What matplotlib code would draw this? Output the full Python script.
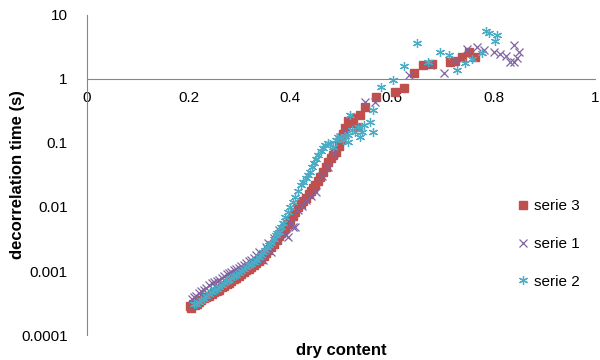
import matplotlib
matplotlib.use('Agg')
import matplotlib.pyplot as plt
from matplotlib.ticker import FixedLocator, FixedFormatter, NullLocator

plt.rcParams['font.family'] = ['Liberation Sans', 'DejaVu Sans']

# serie 3 (squares)
x3 = [0.203, 0.205, 0.208, 0.212, 0.216, 0.220, 0.225, 0.230, 0.235, 0.240,
      0.245, 0.250, 0.255, 0.260, 0.265, 0.270, 0.275, 0.279, 0.284, 0.289,
      0.294, 0.299, 0.304, 0.309, 0.313, 0.318, 0.323, 0.328, 0.333, 0.338,
      0.343, 0.348, 0.352, 0.357, 0.362, 0.367, 0.373, 0.378, 0.382, 0.386,
      0.390, 0.395, 0.400, 0.405, 0.410, 0.416, 0.421, 0.426, 0.431, 0.436,
      0.441, 0.445, 0.449, 0.454, 0.459, 0.464, 0.470, 0.475, 0.480, 0.485,
      0.490, 0.495, 0.500, 0.504, 0.507, 0.513, 0.518, 0.523, 0.533, 0.537,
      0.548, 0.568, 0.607, 0.624, 0.644, 0.661, 0.679, 0.714, 0.724, 0.738,
      0.751, 0.763]
y3 = [0.00028, 0.00026, 0.00030, 0.00029, 0.00031, 0.00033, 0.00035, 0.00038, 0.00039, 0.00041,
      0.00044, 0.00047, 0.00049, 0.00051, 0.00056, 0.00059, 0.00062, 0.00065, 0.00070, 0.00074,
      0.00079, 0.00084, 0.00089, 0.00096, 0.00102, 0.00108, 0.00116, 0.00124, 0.00133, 0.00143,
      0.00156, 0.00172, 0.00190, 0.00213, 0.00240, 0.00268, 0.00305, 0.00350, 0.00391, 0.00430,
      0.00469, 0.00540, 0.00626, 0.00720, 0.00830, 0.0100, 0.0112, 0.0125, 0.0138, 0.0158,
      0.0180, 0.0200, 0.0221, 0.0258, 0.0296, 0.0350, 0.0422, 0.0500, 0.0583, 0.0650,
      0.0723, 0.0900, 0.111, 0.140, 0.171, 0.221, 0.205, 0.246, 0.178, 0.274,
      0.365, 0.523, 0.627, 0.723, 1.24, 1.65, 1.71, 1.84, 1.91, 2.21,
      2.64, 2.21]

# serie 1 (crosses)
x1 = [0.207, 0.211, 0.215, 0.220, 0.225, 0.230, 0.235, 0.240, 0.246, 0.250,
      0.255, 0.260, 0.265, 0.270, 0.275, 0.279, 0.284, 0.289, 0.294, 0.299,
      0.304, 0.308, 0.312, 0.318, 0.323, 0.328, 0.333, 0.338, 0.343, 0.347,
      0.352, 0.357, 0.363, 0.368, 0.372, 0.377, 0.382, 0.392, 0.396, 0.401,
      0.406, 0.410, 0.416, 0.423, 0.431, 0.440, 0.451, 0.462, 0.474, 0.486,
      0.498, 0.510, 0.548, 0.567, 0.633, 0.675, 0.702, 0.724, 0.747, 0.767,
      0.782, 0.800, 0.812, 0.825, 0.833, 0.841, 0.847, 0.851, 0.841]
y1 = [0.00036, 0.00039, 0.00041, 0.00045, 0.00048, 0.00050, 0.00055, 0.00060, 0.00065, 0.00068,
      0.00070, 0.00072, 0.00078, 0.00085, 0.00090, 0.00093, 0.00098, 0.00102, 0.00106, 0.00111,
      0.00118, 0.00125, 0.00133, 0.00142, 0.00150, 0.00160, 0.00178, 0.00198, 0.00170, 0.00148,
      0.00240, 0.00274, 0.00198, 0.00330, 0.00300, 0.00437, 0.00410, 0.00365, 0.00338, 0.00560,
      0.00487, 0.00487, 0.00898, 0.0105, 0.0129, 0.0150, 0.0172, 0.0300, 0.0422, 0.0700,
      0.124, 0.150, 0.430, 0.440, 1.15, 1.65, 1.23, 1.98, 2.94, 3.16,
      2.84, 2.64, 2.46, 2.29, 1.84, 3.40, 2.13, 2.64, 1.84]

# serie 2 (asterisks)
x2 = [0.211, 0.215, 0.220, 0.225, 0.230, 0.235, 0.240, 0.246, 0.250, 0.255,
      0.260, 0.265, 0.270, 0.275, 0.279, 0.284, 0.289, 0.294, 0.299, 0.304,
      0.308, 0.312, 0.318, 0.323, 0.328, 0.333, 0.338, 0.343, 0.347, 0.351,
      0.355, 0.359, 0.363, 0.367, 0.371, 0.374, 0.377, 0.381, 0.385, 0.390,
      0.395, 0.400, 0.405, 0.410, 0.415, 0.421, 0.426, 0.431, 0.435, 0.439,
      0.443, 0.447, 0.451, 0.455, 0.460, 0.464, 0.469, 0.474, 0.479, 0.484,
      0.489, 0.494, 0.499, 0.503, 0.508, 0.513, 0.513, 0.517, 0.522, 0.527,
      0.533, 0.537, 0.542, 0.546, 0.556, 0.562, 0.562, 0.578, 0.603, 0.624,
      0.650, 0.671, 0.695, 0.712, 0.728, 0.743, 0.757, 0.777, 0.786, 0.792,
      0.806, 0.802]
y2 = [0.00030, 0.00031, 0.00033, 0.00035, 0.00037, 0.00040, 0.00043, 0.00047, 0.00050, 0.00053,
      0.00056, 0.00060, 0.00065, 0.00069, 0.00072, 0.00078, 0.00083, 0.00088, 0.00093, 0.00100,
      0.00107, 0.00115, 0.00122, 0.00130, 0.00138, 0.00150, 0.00166, 0.00180, 0.00195, 0.00213,
      0.00235, 0.00255, 0.00274, 0.00315, 0.00365, 0.00390, 0.00407, 0.00480, 0.00570, 0.00698,
      0.00830, 0.0100, 0.0120, 0.0143, 0.0175, 0.0221, 0.0250, 0.0284, 0.0315, 0.0352,
      0.0420, 0.0487, 0.0560, 0.0649, 0.0740, 0.0836, 0.0920, 0.100, 0.0950, 0.0868,
      0.112, 0.124, 0.118, 0.111, 0.128, 0.133, 0.104, 0.274, 0.160, 0.148,
      0.178, 0.124, 0.148, 0.191, 0.213, 0.328, 0.148, 0.750, 0.965, 1.60,
      3.65, 1.84, 2.64, 2.37, 1.38, 1.78, 2.05, 2.55, 5.60, 5.23,
      4.87, 3.92]

xticks = [0, 0.2, 0.4, 0.6, 0.8, 1]
xtick_labels = ['0', '0.2', '0.4', '0.6', '0.8', '1']
yticks = [0.0001, 0.001, 0.01, 0.1, 1, 10]
ytick_labels = ['0.0001', '0.001', '0.01', '0.1', '1', '10']

fig = plt.figure(figsize=(6, 3.6), dpi=100)
ax = fig.add_axes([0.145, 0.0694, 0.847, 0.889])

ax.plot(x3, y3, ls='none', marker='s', ms=6.3, mfc='#C0504D', mec='#C0504D',
        label='serie 3')
ax.plot(x1, y1, ls='none', marker='x', ms=5.5, mew=0.9, color='#8064A2',
        label='serie 1')
ax.plot(x2, y2, ls='none', marker=(6, 2, 0), ms=6.5, mew=0.9, color='#4BACC6',
        label='serie 2')

ax.set_yscale('log')
ax.set_xlim(0, 1)
ax.set_ylim(0.0001, 10)

ax.yaxis.set_major_locator(FixedLocator(yticks))
ax.yaxis.set_major_formatter(FixedFormatter(ytick_labels))
ax.yaxis.set_minor_locator(NullLocator())
ax.xaxis.set_major_locator(FixedLocator(xticks))
ax.xaxis.set_major_formatter(FixedFormatter(xtick_labels))
ax.tick_params(axis='y', length=0, pad=14, labelsize=11)
ax.tick_params(axis='x', length=0, pad=9, labelsize=11)

# x axis crosses at y = 1
for side in ['top', 'right']:
    ax.spines[side].set_visible(False)
ax.spines['bottom'].set_position(('data', 1))
ax.spines['bottom'].set_color('#868686')
ax.spines['left'].set_color('#868686')

ax.set_xlabel('dry content', fontsize=12, fontweight='bold', va='center')
ax.xaxis.set_label_coords(0.5, -0.049)
ax.set_ylabel('decorrelation time (s)', fontsize=12, fontweight='bold', va='center')
ax.yaxis.set_label_coords(-0.137, 0.5)

ax.legend(loc='upper left', bbox_to_anchor=(0.83, 0.448), frameon=False,
          fontsize=11, labelspacing=1.55, handlelength=0.8, handletextpad=0.35,
          borderpad=0)

fig.savefig('out.png', dpi=100)
